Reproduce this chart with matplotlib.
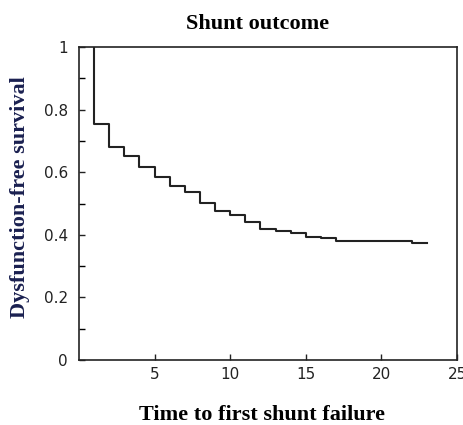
import matplotlib
matplotlib.use("Agg")
from matplotlib import pyplot as plt
from matplotlib.ticker import MultipleLocator

# Kaplan-Meier style step curve
start_time = 1
end_time = 23
event_times = [1, 2, 3, 4, 5, 6, 7, 8, 9, 10, 11, 12, 13, 14, 15, 16, 17, 22]
survival_after = [0.755, 0.68, 0.651, 0.616, 0.585, 0.555, 0.536, 0.501, 0.475,
                  0.464, 0.441, 0.42, 0.411, 0.405, 0.394, 0.389, 0.379, 0.374]

x_ticks = [5, 10, 15, 20, 25]
y_ticks = [0, 0.2, 0.4, 0.6, 0.8, 1]
y_tick_labels = ["0", "0.2", "0.4", "0.6", "0.8", "1"]


def main():
    fig = plt.figure(figsize=(4.64, 4.25), dpi=100)
    ax = fig.add_axes([0.170, 0.153, 0.815, 0.736])

    xs = [start_time] + event_times + [end_time]
    ys = [1.0] + survival_after + [survival_after[-1]]
    ax.step(xs, ys, where="post", color="#222222", lw=1.5)

    ax.set_xlim(0, 25)
    ax.set_ylim(0, 1)
    ax.set_xticks(x_ticks)
    ax.set_yticks(y_ticks)
    ax.set_yticklabels(y_tick_labels)
    ax.yaxis.set_minor_locator(MultipleLocator(0.1))
    ax.tick_params(direction="in", length=4.5, width=1, labelsize=11,
                   colors="#222222")
    ax.tick_params(axis="y", pad=8)
    ax.tick_params(axis="x", pad=5)
    ax.tick_params(which="minor", direction="in", length=4.5, width=1)
    for sp in ax.spines.values():
        sp.set_linewidth(1.2)
        sp.set_color("#222222")

    fig.text(0.555, 0.944, "Shunt outcome", ha="center", va="center",
             family="Liberation Serif", fontweight="bold", fontsize=16)
    fig.text(0.564, 0.024, "Time to first shunt failure", ha="center",
             va="center", family="Liberation Serif", fontweight="bold",
             fontsize=16)
    fig.text(0.043, 0.536, "Dysfunction-free survival", ha="center",
             va="center", rotation=90, family="Liberation Serif",
             fontweight="bold", fontsize=16, color="#1a2050")

    fig.savefig("out.png", dpi=100)


main()
